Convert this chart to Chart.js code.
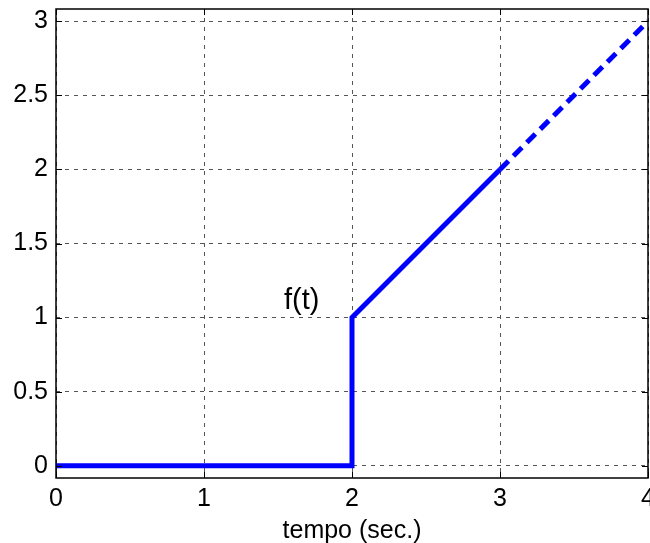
<!DOCTYPE html>
<html>
<head>
<meta charset="utf-8">
<script src="https://cdn.jsdelivr.net/npm/chart.js@4/dist/chart.umd.min.js"></script>
<style>
  html, body { margin: 0; padding: 0; background: #fff; overflow: hidden; }
  #wrap { width: 650px; height: 543px; position: relative; }
</style>
</head>
<body>
<div id="wrap"><canvas id="chart"></canvas></div>
<script>
// --- data ---
const tValues = [0, 2, 2, 3, 4];
const fValues = [0, 0, 1, 2, 3];
const xTicks = [0, 1, 2, 3, 4];
const yTicks = [0, 0.5, 1, 1.5, 2, 2.5, 3];
const dashFrom = 3;            // line turns dashed from t = 3
const curveLabel = 'f(t)';
const curveLabelAt = { x: 1.66, y: 1.11 };

const FONT = '"Liberation Sans", Arial, sans-serif';

// box, inward ticks and the f(t) label, MATLAB style
const framePlugin = {
    id: 'frame',
    afterDraw(chart) {
        const { ctx, chartArea: a, scales } = chart;
        ctx.save();
        ctx.strokeStyle = '#000';
        ctx.lineWidth = 1.5;
        ctx.setLineDash([]);
        ctx.strokeRect(a.left, a.top, a.right - a.left, a.bottom - a.top);

        ctx.lineWidth = 1;
        const len = 6;
        xTicks.forEach(v => {
            const px = Math.round(scales.x.getPixelForValue(v)) + 0.5;
            ctx.beginPath();
            ctx.moveTo(px, a.bottom); ctx.lineTo(px, a.bottom - len);
            ctx.moveTo(px, a.top); ctx.lineTo(px, a.top + len);
            ctx.stroke();
        });
        yTicks.forEach(v => {
            const py = Math.round(scales.y.getPixelForValue(v)) + 0.5;
            ctx.beginPath();
            ctx.moveTo(a.left, py); ctx.lineTo(a.left + len, py);
            ctx.moveTo(a.right, py); ctx.lineTo(a.right - len, py);
            ctx.stroke();
        });

        ctx.fillStyle = '#000';
        ctx.font = '29px ' + FONT;
        ctx.textAlign = 'center';
        ctx.textBaseline = 'middle';
        ctx.fillText(curveLabel,
            scales.x.getPixelForValue(curveLabelAt.x),
            scales.y.getPixelForValue(curveLabelAt.y));
        ctx.restore();
    }
};

const gridStyle = {
    color: '#555',
    lineWidth: 1,
    drawTicks: false
};

new Chart(document.getElementById('chart'), {
    type: 'line',
    data: {
        datasets: [{
            data: tValues.map((t, i) => ({ x: t, y: fValues[i] })),
            borderColor: '#0000ff',
            borderWidth: 5,
            borderJoinStyle: 'miter',
            pointRadius: 0,
            tension: 0,
            fill: false,
            segment: {
                borderDash: c => c.p0.parsed.x >= dashFrom ? [12, 7] : undefined
            }
        }]
    },
    options: {
        responsive: true,
        maintainAspectRatio: false,
        animation: false,
        layout: { padding: { left: 0, right: 2, top: 9, bottom: 0 } },
        plugins: { legend: { display: false }, tooltip: { enabled: false } },
        scales: {
            x: {
                type: 'linear',
                min: 0,
                max: 4,
                grid: gridStyle,
                border: { display: false, dash: [4, 5] },
                afterBuildTicks: s => { s.ticks = xTicks.map(v => ({ value: v })); },
                afterFit: s => { s.height = 65; s.paddingLeft = 0; s.paddingRight = 0; },
                ticks: {
                    padding: 6,
                    color: '#000',
                    maxRotation: 0,
                    font: { family: FONT, size: 25 },
                    callback: v => String(v)
                },
                title: {
                    display: true,
                    text: 'tempo (sec.)',
                    color: '#000',
                    padding: { top: 0, bottom: -3 },
                    font: { family: FONT, size: 25 }
                }
            },
            y: {
                type: 'linear',
                min: -0.083,
                max: 3.083,
                grid: gridStyle,
                border: { display: false, dash: [4, 5] },
                afterBuildTicks: s => { s.ticks = yTicks.map(v => ({ value: v })); },
                afterFit: s => { s.width = 56; s.paddingTop = 0; s.paddingBottom = 0; },
                ticks: {
                    padding: 8,
                    color: '#000',
                    font: { family: FONT, size: 25 },
                    callback: v => String(v)
                }
            }
        }
    },
    plugins: [framePlugin]
});
</script>
</body>
</html>
